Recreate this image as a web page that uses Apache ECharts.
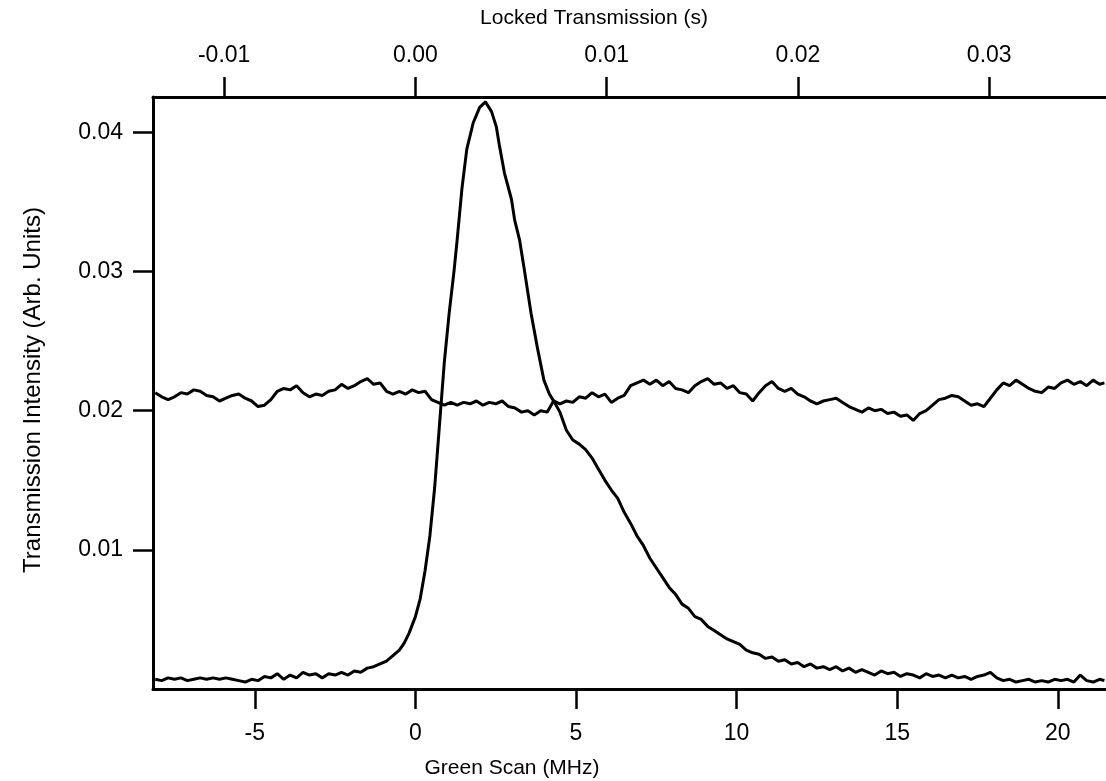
<!DOCTYPE html>
<html>
<head>
<meta charset="utf-8">
<script src="https://cdn.jsdelivr.net/npm/echarts@6/dist/echarts.min.js"></script>
<style>
  html, body { margin: 0; padding: 0; background: #fff; }
  #chart { width: 1106px; height: 781px; }
</style>
</head>
<body>
<div id="chart"></div>
<script>
// flat trace (x in MHz, y in arb. units)
const flatX = [-8.1, -7.9, -7.7, -7.5, -7.3, -7.1, -6.9, -6.7, -6.5, -6.3, -6.1, -5.9, -5.7, -5.5, -5.3, -5.1, -4.9, -4.7,
  -4.5, -4.3, -4.1, -3.9, -3.7, -3.5, -3.3, -3.1, -2.9, -2.7, -2.5, -2.3, -2.1, -1.9, -1.7, -1.5, -1.3, -1.1, -0.9, -0.7,
  -0.5, -0.3, -0.1, 0.1, 0.3, 0.5, 0.7, 0.9, 1.1, 1.3, 1.5, 1.7, 1.9, 2.1, 2.3, 2.5, 2.7, 2.9, 3.1, 3.3, 3.5, 3.7, 3.9, 4.1,
  4.3, 4.5, 4.7, 4.9, 5.1, 5.3, 5.5, 5.7, 5.9, 6.1, 6.3, 6.5, 6.7, 6.9, 7.1, 7.3, 7.5, 7.7, 7.9, 8.1, 8.3, 8.5, 8.7, 8.9,
  9.1, 9.3, 9.5, 9.7, 9.9, 10.1, 10.3, 10.5, 10.7, 10.9, 11.1, 11.3, 11.5, 11.7, 11.9, 12.1, 12.3, 12.5, 12.7, 12.9, 13.1,
  13.3, 13.5, 13.7, 13.9, 14.1, 14.3, 14.5, 14.7, 14.9, 15.1, 15.3, 15.5, 15.7, 15.9, 16.1, 16.3, 16.5, 16.7, 16.9, 17.1,
  17.3, 17.5, 17.7, 17.9, 18.1, 18.3, 18.5, 18.7, 18.9, 19.1, 19.3, 19.5, 19.7, 19.9, 20.1, 20.3, 20.5, 20.7, 20.9, 21.1,
  21.3, 21.45];
const flatY = [0.0213, 0.0210, 0.0208, 0.0210, 0.0213, 0.0212, 0.0215, 0.0214, 0.0211, 0.0210, 0.0207, 0.0209, 0.0211,
  0.0212, 0.0209, 0.0207, 0.0203, 0.0204, 0.0208, 0.0214, 0.0216, 0.0215, 0.0218, 0.0213, 0.0210, 0.0212, 0.0211, 0.0214,
  0.0215, 0.0219, 0.0216, 0.0218, 0.0221, 0.0223, 0.0219, 0.0220, 0.0214, 0.0212, 0.0214, 0.0212, 0.0215, 0.0213, 0.0214,
  0.0208, 0.0206, 0.0204, 0.0206, 0.0204, 0.0206, 0.0205, 0.0207, 0.0204, 0.0206, 0.0205, 0.0207, 0.0203, 0.0202, 0.0199,
  0.0200, 0.0197, 0.0200, 0.0199, 0.0207, 0.0205, 0.0207, 0.0206, 0.0210, 0.0209, 0.0213, 0.0210, 0.0212, 0.0206, 0.0209,
  0.0211, 0.0218, 0.0220, 0.0222, 0.0219, 0.0222, 0.0218, 0.0221, 0.0216, 0.0215, 0.0213, 0.0218, 0.0221, 0.0223, 0.0219,
  0.0220, 0.0216, 0.0218, 0.0213, 0.0212, 0.0207, 0.0213, 0.0218, 0.0221, 0.0216, 0.0214, 0.0216, 0.0212, 0.0210, 0.0207,
  0.0205, 0.0207, 0.0208, 0.0209, 0.0206, 0.0203, 0.0201, 0.0199, 0.0202, 0.0200, 0.0201, 0.0198, 0.0199, 0.0196, 0.0197,
  0.0193, 0.0198, 0.0200, 0.0204, 0.0208, 0.0209, 0.0211, 0.0210, 0.0207, 0.0204, 0.0205, 0.0203, 0.0209, 0.0215, 0.0220,
  0.0218, 0.0222, 0.0219, 0.0216, 0.0214, 0.0213, 0.0217, 0.0216, 0.0220, 0.0222, 0.0219, 0.0221, 0.0218, 0.0222, 0.0219,
  0.0220];

// peak trace
const peakX = [-8.1, -7.9, -7.7, -7.5, -7.3, -7.1, -6.9, -6.7, -6.5, -6.3, -6.1, -5.9, -5.7, -5.5, -5.3, -5.1, -4.9, -4.7,
  -4.5, -4.3, -4.1, -3.9, -3.7, -3.5, -3.3, -3.1, -2.9, -2.7, -2.5, -2.3, -2.1, -1.9, -1.7, -1.5, -1.3, -1.1, -0.9, -0.7,
  -0.5, -0.35, -0.2, 0.0, 0.15, 0.3, 0.45, 0.6, 0.75, 0.9, 1.05, 1.2, 1.3, 1.45, 1.6, 1.8, 2.0, 2.18, 2.37, 2.52, 2.62,
  2.77, 2.99, 3.09, 3.24, 3.4, 3.6, 3.8, 4.0, 4.17, 4.33, 4.5, 4.7, 4.9, 5.1, 5.3, 5.5, 5.7, 5.9, 6.1, 6.3, 6.5, 6.7, 6.9,
  7.1, 7.3, 7.5, 7.7, 7.9, 8.1, 8.3, 8.5, 8.7, 8.9, 9.1, 9.3, 9.5, 9.7, 9.9, 10.1, 10.3, 10.5, 10.7, 10.9, 11.1, 11.3,
  11.5, 11.7, 11.9, 12.1, 12.3, 12.5, 12.7, 12.9, 13.1, 13.3, 13.5, 13.7, 13.9, 14.1, 14.3, 14.5, 14.7, 14.9, 15.1, 15.3,
  15.5, 15.7, 15.9, 16.1, 16.3, 16.5, 16.7, 16.9, 17.1, 17.3, 17.5, 17.7, 17.9, 18.1, 18.3, 18.5, 18.7, 18.9, 19.1, 19.3,
  19.5, 19.7, 19.9, 20.1, 20.3, 20.5, 20.7, 20.9, 21.1, 21.3, 21.45];
const peakY = [0.0007, 0.0006, 0.0008, 0.0007, 0.0008, 0.0006, 0.0007, 0.0008, 0.0007, 0.0008, 0.0007, 0.0008, 0.0007,
  0.0006, 0.0005, 0.0007, 0.0006, 0.0009, 0.0008, 0.0011, 0.0007, 0.0010, 0.0008, 0.0012, 0.0010, 0.0011, 0.0008, 0.0011,
  0.0010, 0.0012, 0.0010, 0.0013, 0.0012, 0.0015, 0.0016, 0.0018, 0.0020, 0.0024, 0.0028, 0.0033, 0.0040, 0.0052, 0.0065,
  0.0085, 0.0110, 0.0145, 0.0190, 0.0235, 0.0270, 0.0300, 0.0323, 0.0360, 0.0388, 0.0407, 0.0418, 0.0422, 0.0415, 0.0404,
  0.0390, 0.0371, 0.0352, 0.0337, 0.0323, 0.0300, 0.0270, 0.0245, 0.0222, 0.0212, 0.0206, 0.0199, 0.0186, 0.0179, 0.0176,
  0.0172, 0.0166, 0.0158, 0.0150, 0.0143, 0.0137, 0.0127, 0.0119, 0.0110, 0.0103, 0.0094, 0.0087, 0.0080, 0.0073, 0.0068,
  0.0061, 0.0058, 0.0052, 0.0050, 0.0045, 0.0042, 0.0039, 0.0036, 0.0034, 0.0032, 0.0028, 0.0026, 0.0025, 0.0022, 0.0023,
  0.0020, 0.0021, 0.0018, 0.0019, 0.0016, 0.0018, 0.0015, 0.0016, 0.0014, 0.0016, 0.0013, 0.0015, 0.0012, 0.0014, 0.0012,
  0.0010, 0.0013, 0.0011, 0.0012, 0.0009, 0.0011, 0.0010, 0.0008, 0.0011, 0.0009, 0.0010, 0.0008, 0.0010, 0.0008, 0.0009,
  0.0007, 0.0009, 0.0010, 0.0012, 0.0008, 0.0006, 0.0007, 0.0005, 0.0006, 0.0007, 0.0005, 0.0006, 0.0005, 0.0007, 0.0006,
  0.0007, 0.0005, 0.0010, 0.0006, 0.0005, 0.0007, 0.0006];

const bottomTicks = [-5, 0, 5, 10, 15, 20];
const topTicks = [-0.01, 0.00, 0.01, 0.02, 0.03];
const leftTicks = [0.01, 0.02, 0.03, 0.04];

const xMin = -8.17, xMax = 21.5;
const secPerMHz = 0.01 / 5.955; // top axis scale
const font = "Liberation Sans, Arial, Helvetica, sans-serif";

const zip = (xs, ys) => xs.map((x, i) => [x, ys[i]]);

let myChart = echarts.init(document.getElementById("chart"));
myChart.setOption({
  animation: false,
  backgroundColor: "#fff",
  grid: { left: 153, right: 0, top: 97, bottom: 92 },
  xAxis: [
    {
      type: "value",
      position: "bottom",
      min: xMin,
      max: xMax,
      axisLine: { show: true, onZero: false, lineStyle: { color: "#000", width: 3 } },
      axisTick: { show: true, length: 20, customValues: bottomTicks, lineStyle: { color: "#000", width: 2.5 } },
      axisLabel: {
        customValues: bottomTicks,
        margin: 33,
        color: "#000",
        fontSize: 23,
        fontFamily: font,
      },
      splitLine: { show: false },
    },
    {
      type: "value",
      position: "top",
      min: xMin * secPerMHz,
      max: xMax * secPerMHz,
      axisLine: { show: true, onZero: false, lineStyle: { color: "#000", width: 3 } },
      axisTick: { show: true, length: 20, customValues: topTicks, lineStyle: { color: "#000", width: 2.5 } },
      axisLabel: {
        customValues: topTicks,
        margin: 30,
        color: "#000",
        fontSize: 23,
        fontFamily: font,
        formatter: (v) => v.toFixed(2),
      },
      splitLine: { show: false },
    },
  ],
  yAxis: {
    type: "value",
    min: 0,
    max: 0.04255,
    axisLine: { show: true, onZero: false, lineStyle: { color: "#000", width: 3 } },
    axisTick: { show: true, length: 20, customValues: leftTicks, lineStyle: { color: "#000", width: 2.5 } },
    axisLabel: {
      customValues: leftTicks,
      margin: 30,
      color: "#000",
      fontSize: 23,
      fontFamily: font,
      formatter: (v) => v.toFixed(2),
    },
    splitLine: { show: false },
  },
  graphic: [
    {
      type: "text",
      x: 594, y: 18,
      style: { text: "Locked Transmission (s)", font: "21px " + font, fill: "#000", align: "center", verticalAlign: "middle" },
    },
    {
      type: "text",
      x: 512, y: 768,
      style: { text: "Green Scan (MHz)", font: "21px " + font, fill: "#000", align: "center", verticalAlign: "middle" },
    },
    {
      type: "text",
      x: 33, y: 390,
      rotation: Math.PI / 2,
      style: { text: "Transmission Intensity (Arb. Units)", font: "24px " + font, fill: "#000", align: "center", verticalAlign: "middle" },
    },
  ],
  series: [
    {
      type: "line",
      xAxisIndex: 0,
      data: zip(flatX, flatY),
      showSymbol: false,
      lineStyle: { color: "#000", width: 3 },
    },
    {
      type: "line",
      xAxisIndex: 0,
      data: zip(peakX, peakY),
      showSymbol: false,
      lineStyle: { color: "#000", width: 3 },
    },
  ],
});
</script>
</body>
</html>
